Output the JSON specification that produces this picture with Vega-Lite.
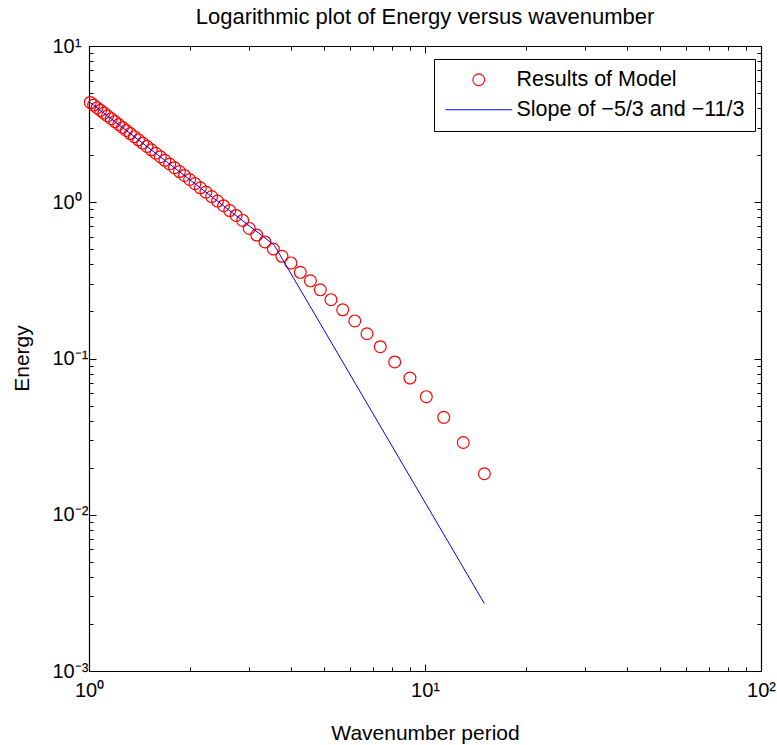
{
  "$schema": "https://vega.github.io/schema/vega-lite/v6.json",
  "width": 672,
  "height": 625,
  "autosize": {"type": "none"},
  "padding": {"left": 89, "top": 46, "right": 16, "bottom": 74},
  "background": "white",
  "title": {
    "text": "Logarithmic plot of Energy versus wavenumber",
    "font": "Liberation Sans",
    "fontSize": 22,
    "fontWeight": "normal",
    "color": "black",
    "baseline": "alphabetic",
    "offset": -10
  },
  "config": {
    "view": {"stroke": null},
    "axis": {
      "grid": false,
      "domainColor": "black",
      "domainWidth": 1.2,
      "tickColor": "black",
      "tickWidth": 1,
      "labelColor": "black",
      "labelFont": "Liberation Sans",
      "labelFontSize": 20,
      "labelOverlap": false,
      "labelFlush": false,
      "labelBound": false,
      "titleColor": "black",
      "titleFont": "Liberation Sans",
      "titleFontSize": 21,
      "titleFontWeight": "normal"
    }
  },
  "datasets": {
    "model": [
      {"k": 1.0089, "E": 4.351, "series": "Results of Model"},
      {"k": 1.0324, "E": 4.187, "series": "Results of Model"},
      {"k": 1.0567, "E": 4.029, "series": "Results of Model"},
      {"k": 1.0821, "E": 3.872, "series": "Results of Model"},
      {"k": 1.1084, "E": 3.720, "series": "Results of Model"},
      {"k": 1.1360, "E": 3.571, "series": "Results of Model"},
      {"k": 1.1646, "E": 3.425, "series": "Results of Model"},
      {"k": 1.1945, "E": 3.284, "series": "Results of Model"},
      {"k": 1.2256, "E": 3.145, "series": "Results of Model"},
      {"k": 1.2581, "E": 3.011, "series": "Results of Model"},
      {"k": 1.2921, "E": 2.880, "series": "Results of Model"},
      {"k": 1.3277, "E": 2.753, "series": "Results of Model"},
      {"k": 1.3650, "E": 2.628, "series": "Results of Model"},
      {"k": 1.4040, "E": 2.508, "series": "Results of Model"},
      {"k": 1.4448, "E": 2.391, "series": "Results of Model"},
      {"k": 1.4877, "E": 2.278, "series": "Results of Model"},
      {"k": 1.5327, "E": 2.167, "series": "Results of Model"},
      {"k": 1.5801, "E": 2.059, "series": "Results of Model"},
      {"k": 1.6300, "E": 1.956, "series": "Results of Model"},
      {"k": 1.6826, "E": 1.855, "series": "Results of Model"},
      {"k": 1.7380, "E": 1.757, "series": "Results of Model"},
      {"k": 1.7965, "E": 1.664, "series": "Results of Model"},
      {"k": 1.8584, "E": 1.572, "series": "Results of Model"},
      {"k": 1.9238, "E": 1.484, "series": "Results of Model"},
      {"k": 1.9932, "E": 1.398, "series": "Results of Model"},
      {"k": 2.0669, "E": 1.316, "series": "Results of Model"},
      {"k": 2.1450, "E": 1.237, "series": "Results of Model"},
      {"k": 2.2284, "E": 1.161, "series": "Results of Model"},
      {"k": 2.3174, "E": 1.088, "series": "Results of Model"},
      {"k": 2.4131, "E": 1.017, "series": "Results of Model"},
      {"k": 2.5145, "E": 0.950, "series": "Results of Model"},
      {"k": 2.6236, "E": 0.885, "series": "Results of Model"},
      {"k": 2.7409, "E": 0.823, "series": "Results of Model"},
      {"k": 2.8672, "E": 0.765, "series": "Results of Model"},
      {"k": 3.000, "E": 0.680, "series": "Results of Model"},
      {"k": 3.156, "E": 0.617, "series": "Results of Model"},
      {"k": 3.340, "E": 0.557, "series": "Results of Model"},
      {"k": 3.537, "E": 0.502, "series": "Results of Model"},
      {"k": 3.753, "E": 0.451, "series": "Results of Model"},
      {"k": 3.990, "E": 0.409, "series": "Results of Model"},
      {"k": 4.255, "E": 0.356, "series": "Results of Model"},
      {"k": 4.560, "E": 0.314, "series": "Results of Model"},
      {"k": 4.880, "E": 0.275, "series": "Results of Model"},
      {"k": 5.250, "E": 0.238, "series": "Results of Model"},
      {"k": 5.690, "E": 0.205, "series": "Results of Model"},
      {"k": 6.180, "E": 0.174, "series": "Results of Model"},
      {"k": 6.720, "E": 0.144, "series": "Results of Model"},
      {"k": 7.360, "E": 0.119, "series": "Results of Model"},
      {"k": 8.125, "E": 0.095, "series": "Results of Model"},
      {"k": 9.020, "E": 0.075, "series": "Results of Model"},
      {"k": 10.09, "E": 0.057, "series": "Results of Model"},
      {"k": 11.37, "E": 0.042, "series": "Results of Model"},
      {"k": 13.00, "E": 0.029, "series": "Results of Model"},
      {"k": 15.02, "E": 0.0183, "series": "Results of Model"}
    ],
    "slope": [
      {"k": 1.0, "E": 4.41, "series": "Slope of −5/3 and −11/3"},
      {"k": 3.56, "E": 0.531, "series": "Slope of −5/3 and −11/3"},
      {"k": 15.02, "E": 0.0027, "series": "Slope of −5/3 and −11/3"}
    ]
  },
  "layer": [
    {
      "data": {"name": "model"},
      "mark": {"type": "point", "filled": false, "opacity": 1, "strokeWidth": 1.2, "size": 140, "clip": false},
      "encoding": {
        "x": {
          "field": "k",
          "type": "quantitative",
          "scale": {"type": "log", "domain": [1, 100], "nice": false},
          "axis": {
            "orient": "bottom",
            "values": [1, 2, 3, 4, 5, 6, 7, 8, 9, 10, 20, 30, 40, 50, 60, 70, 80, 90, 100],
            "tickSize": {"condition": {"test": "abs(log(datum.value)/LN10 - round(log(datum.value)/LN10)) < 1e-6", "value": -7}, "value": -4},
            "labelExpr": "abs(log(datum.value)/LN10 - round(log(datum.value)/LN10)) > 1e-6 ? '' : (round(log(datum.value)/LN10) == 0 ? '10⁰' : round(log(datum.value)/LN10) == 1 ? '10¹' : '10²')",
            "labelPadding": 16,
            "labelBaseline": "top",
            "title": "Wavenumber period",
            "titleBaseline": "alphabetic",
            "titleY": 68
          }
        },
        "y": {
          "field": "E",
          "type": "quantitative",
          "scale": {"type": "log", "domain": [0.001, 10], "nice": false},
          "axis": {
            "orient": "left",
            "values": [0.001, 0.002, 0.003, 0.004, 0.005, 0.006, 0.007, 0.008, 0.009, 0.01, 0.02, 0.03, 0.04, 0.05, 0.06, 0.07, 0.08, 0.09, 0.1, 0.2, 0.3, 0.4, 0.5, 0.6, 0.7, 0.8, 0.9, 1, 2, 3, 4, 5, 6, 7, 8, 9, 10],
            "tickSize": {"condition": {"test": "abs(log(datum.value)/LN10 - round(log(datum.value)/LN10)) < 1e-6", "value": -7}, "value": -4},
            "labelExpr": "abs(log(datum.value)/LN10 - round(log(datum.value)/LN10)) > 1e-6 ? '' : (round(log(datum.value)/LN10) == -3 ? '10⁻³' : round(log(datum.value)/LN10) == -2 ? '10⁻²' : round(log(datum.value)/LN10) == -1 ? '10⁻¹' : round(log(datum.value)/LN10) == 0 ? '10⁰' : '10¹')",
            "labelAlign": "left",
            "labelBaseline": "middle",
            "labelPadding": 44,
            "title": "Energy",
            "titleAngle": 270,
            "titleBaseline": "middle",
            "titleX": -67,
            "titleY": 312
          }
        },
        "color": {
          "field": "series",
          "type": "nominal",
          "scale": {"domain": ["Results of Model", "Slope of −5/3 and −11/3"], "range": ["#ff0000", "#0000ff"]},
          "legend": {
            "orient": "none",
            "legendX": 345,
            "legendY": 13,
            "title": null,
            "strokeColor": "black",
            "fillColor": "white",
            "padding": 10,
            "labelFont": "Liberation Sans",
            "labelFontSize": 21.5,
            "labelColor": "black",
            "labelLimit": 400,
            "symbolSize": 140,
            "symbolStrokeWidth": 1.1,
            "symbolOffset": 24,
            "labelOffset": 27,
            "rowPadding": 7
          }
        },
        "shape": {
          "field": "series",
          "type": "nominal",
          "scale": {"domain": ["Results of Model", "Slope of −5/3 and −11/3"], "range": ["circle", "M-5.65,0H5.65"]},
          "legend": {
            "orient": "none",
            "legendX": 345,
            "legendY": 13,
            "title": null,
            "strokeColor": "black",
            "fillColor": "white",
            "padding": 10,
            "labelFont": "Liberation Sans",
            "labelFontSize": 21.5,
            "labelColor": "black",
            "labelLimit": 400,
            "symbolSize": 140,
            "symbolStrokeWidth": 1.1,
            "symbolOffset": 24,
            "labelOffset": 27,
            "rowPadding": 7
          }
        }
      }
    },
    {
      "data": {"name": "slope"},
      "mark": {"type": "line", "strokeWidth": 1, "clip": false},
      "encoding": {
        "x": {
          "field": "k",
          "type": "quantitative",
          "scale": {"type": "log", "domain": [1, 100], "nice": false},
          "axis": {
            "orient": "top",
            "values": [1, 2, 3, 4, 5, 6, 7, 8, 9, 10, 20, 30, 40, 50, 60, 70, 80, 90, 100],
            "tickSize": {"condition": {"test": "abs(log(datum.value)/LN10 - round(log(datum.value)/LN10)) < 1e-6", "value": -7}, "value": -4},
            "labels": false,
            "title": null
          }
        },
        "y": {
          "field": "E",
          "type": "quantitative",
          "scale": {"type": "log", "domain": [0.001, 10], "nice": false},
          "axis": {
            "orient": "right",
            "values": [0.001, 0.002, 0.003, 0.004, 0.005, 0.006, 0.007, 0.008, 0.009, 0.01, 0.02, 0.03, 0.04, 0.05, 0.06, 0.07, 0.08, 0.09, 0.1, 0.2, 0.3, 0.4, 0.5, 0.6, 0.7, 0.8, 0.9, 1, 2, 3, 4, 5, 6, 7, 8, 9, 10],
            "tickSize": {"condition": {"test": "abs(log(datum.value)/LN10 - round(log(datum.value)/LN10)) < 1e-6", "value": -7}, "value": -4},
            "labels": false,
            "title": null
          }
        },
        "color": {
          "field": "series",
          "type": "nominal",
          "scale": {"domain": ["Results of Model", "Slope of −5/3 and −11/3"], "range": ["#ff0000", "#0000ff"]}
        }
      }
    }
  ],
  "resolve": {"axis": {"x": "independent", "y": "independent"}}
}
